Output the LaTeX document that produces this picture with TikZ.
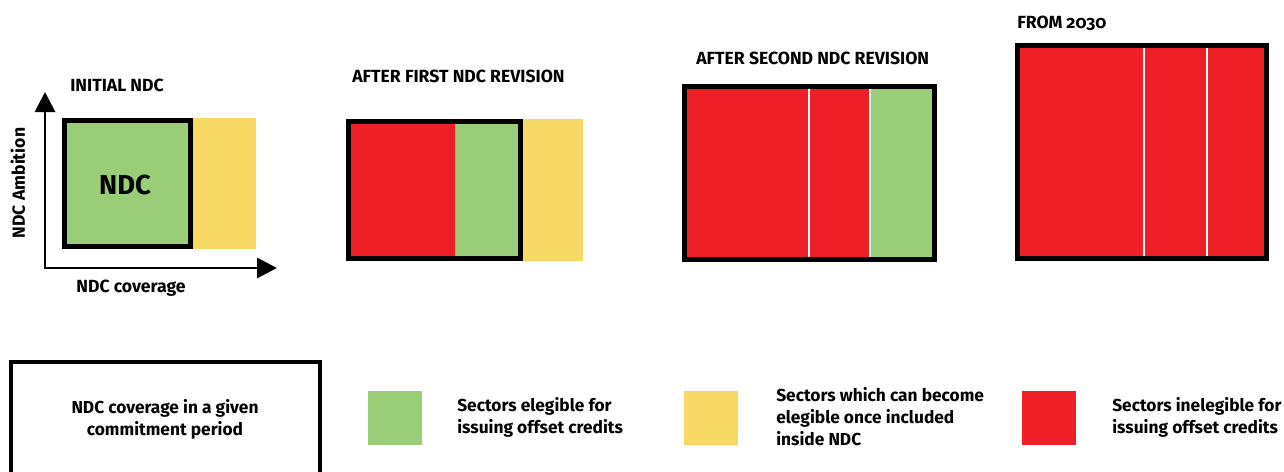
\documentclass[tikz,border=0pt]{standalone}
\usepackage{fontspec}
\setmainfont{Fira Sans}[Numbers=OldStyle]
\usetikzlibrary{arrows.meta}
\definecolor{ndcgreen}{HTML}{99CD77}
\definecolor{ndcyellow}{HTML}{F9D966}
\definecolor{ndcred}{HTML}{EE1F27}
\tikzset{
  frame/.style={draw=black, line width=3.75pt},
  divider/.style={draw=white, line width=1.6pt},
  title/.style={font=\bfseries\fontsize{13.2}{16}\selectfont, inner sep=0pt},
  legendtext/.style={font=\bfseries\fontsize{13}{16.5}\selectfont, align=left, inner sep=0pt, anchor=west},
  axis/.style={line width=2.2pt, {Triangle[length=15pt,width=15pt]}-{Triangle[length=15pt,width=15pt]}}
}
\begin{document}
\begin{tikzpicture}[x=0.75pt, y=-0.75pt]
\useasboundingbox (0,0) rectangle (1284,471);
\clip (0,0) rectangle (1284,471);

% --- initial NDC ---
\fill[ndcgreen] (64,120) rectangle (191,247);
\fill[ndcyellow] (191,118) rectangle (256,249);
\draw[frame] (64.5,120.5) rectangle (190.5,246.5);
\node[font=\bfseries\fontsize{20.5}{24}\selectfont, inner sep=0pt] (ndc) at (125,185) {NDC};
\node[title, anchor=west] (t1) at (70,85) {INITIAL NDC};
\coordinate (ytip) at (45,92);
\coordinate (origin) at (45,268);
\coordinate (xtip) at (277,268);
\draw[axis] (ytip) -- (origin) -- (xtip);
\node[title, rotate=90] (yl) at (18,183) {NDC Ambition};
\node[title] (xl) at (131,288) {NDC coverage};

% --- after first revision ---
\fill[ndcred] (346,119) rectangle (455,261);
\fill[ndcgreen] (455,119) rectangle (522,261);
\fill[ndcyellow] (522,119) rectangle (583,261);
\draw[frame] (348.5,121.5) rectangle (520.5,258.5);
\node[title, anchor=west] (t2) at (352,76) {AFTER FIRST NDC REVISION};

% --- after second revision ---
\fill[ndcred] (682,84) rectangle (870,262);
\fill[ndcgreen] (870,84) rectangle (937,262);
\draw[divider] (809,84) -- (809,262);
\draw[divider] (870,84) -- (870,262);
\draw[frame] (684.5,86.5) rectangle (934.5,259.5);
\node[title, anchor=west] (t3) at (696,58) {AFTER SECOND NDC REVISION};

% --- from 2030 ---
\fill[ndcred] (1015,43) rectangle (1269,261);
\draw[divider] (1144,43) -- (1144,261);
\draw[divider] (1207,43) -- (1207,261);
\draw[frame] (1017.5,45.5) rectangle (1266.5,258.5);
\node[title, anchor=west] (t4) at (1017,23) {FROM 2030};

% --- legend ---
\draw[draw=black, line width=3pt] (10.5,480) -- (10.5,362) -- (319.5,362) -- (319.5,480);
\node[legendtext, anchor=center, align=center] (lg0) at (165,419) {NDC coverage in a given\\commitment period};
\fill[ndcgreen] (368,391) rectangle (422,445);
\node[legendtext] (lg1) at (457,417) {Sectors elegible for\\issuing offset credits};
\fill[ndcyellow] (684,391) rectangle (738,445);
\node[legendtext] (lg2) at (776,417) {Sectors which can become\\elegible once included\\inside NDC};
\fill[ndcred] (1022,391) rectangle (1076,445);
\node[legendtext] (lg3) at (1112,417) {Sectors inelegible for\\issuing offset credits};
\end{tikzpicture}
\end{document}
